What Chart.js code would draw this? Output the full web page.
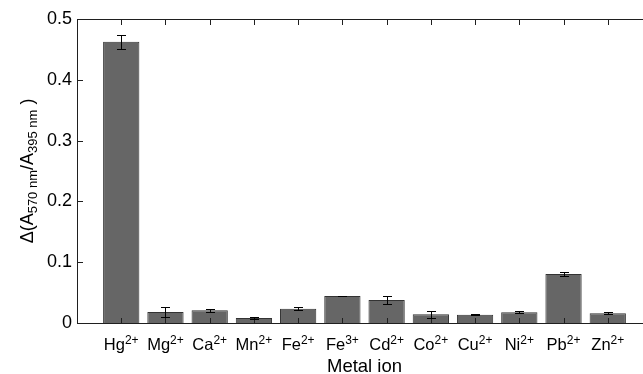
<!DOCTYPE html>
<html>
<head>
<meta charset="utf-8">
<script src="https://cdn.jsdelivr.net/npm/chart.js@4"></script>
<style>
  html, body { margin: 0; padding: 0; background: #fff; overflow: hidden; }
  #wrap { width: 643px; height: 374px; overflow: hidden; }
  canvas { display: block; }
</style>
</head>
<body>
<div id="wrap"><canvas id="chart" width="660" height="374"></canvas></div>
<script>
(function(){
  'use strict';

  // metal ions: base symbol + charge (drawn as superscript)
  let ions = ['Hg', 'Mg', 'Ca', 'Mn', 'Fe', 'Fe', 'Cd', 'Co', 'Cu', 'Ni', 'Pb', 'Zn'];
  let charges = ['2+', '2+', '2+', '2+', '2+', '3+', '2+', '2+', '2+', '2+', '2+', '2+'];
  let ratioChange = [0.4625, 0.018, 0.021, 0.0082, 0.0236, 0.0444, 0.0379, 0.0143, 0.0137, 0.0176, 0.0806, 0.016];
  let errors = [0.0115, 0.0085, 0.0025, 0.001, 0.0022, 0.0005, 0.0072, 0.0058, 0.001, 0.0015, 0.0028, 0.0018];
  let yTicks = [0, 0.1, 0.2, 0.3, 0.4, 0.5];

  let font = '"Liberation Sans", Arial, Helvetica, sans-serif';
  let axisColor = '#1f1f1f';

  let points = ratioChange.map(function(v, i){ return { x: i + 1, y: v }; });

  // box, inward tick marks, error bars and labels with super/subscripts
  let decorations = {
    id: 'decorations',
    afterDraw: function(chart){
      let ctx = chart.ctx;
      let area = chart.chartArea;
      let xs = chart.scales.x;
      let ys = chart.scales.y;
      let L = Math.round(area.left);
      let T = Math.round(area.top);
      let B = Math.round(area.bottom);
      let R = Math.round(area.right);

      ctx.save();
      ctx.fillStyle = axisColor;
      // axes box
      ctx.fillRect(L, T, R - L + 1, 1);
      ctx.fillRect(L, B, R - L + 1, 1);
      ctx.fillRect(L, T, 1, B - T + 1);
      ctx.fillRect(R, T, 1, B - T + 1);
      // x tick marks, top and bottom, pointing inward
      ions.forEach(function(n, i){
        let px = Math.round(xs.getPixelForValue(i + 1));
        ctx.fillRect(px, B - 5, 1, 5);
        ctx.fillRect(px, T + 1, 1, 5);
      });
      // y tick marks, left and right, pointing inward
      yTicks.forEach(function(t){
        let py = Math.round(ys.getPixelForValue(t));
        ctx.fillRect(L + 1, py, 5, 1);
        ctx.fillRect(R - 5, py, 5, 1);
      });

      // error bars
      ctx.fillStyle = '#000';
      ratioChange.forEach(function(v, i){
        let px = Math.round(xs.getPixelForValue(i + 1));
        let hi = Math.round(ys.getPixelForValue(v + errors[i]));
        let lo = Math.round(ys.getPixelForValue(v - errors[i]));
        ctx.fillRect(px, hi, 1, lo - hi + 1);
        ctx.fillRect(px - 4, hi, 9, 1);
        ctx.fillRect(px - 4, lo, 9, 1);
      });

      // x category labels with superscript charges
      ctx.fillStyle = '#000';
      ctx.textBaseline = 'alphabetic';
      ctx.textAlign = 'left';
      ions.forEach(function(n, i){
        let px = xs.getPixelForValue(i + 1);
        ctx.font = '16.5px ' + font;
        let wb = ctx.measureText(n).width;
        ctx.font = '12px ' + font;
        let ws = ctx.measureText(charges[i]).width;
        let x0 = px - (wb + ws) / 2;
        ctx.font = '16.5px ' + font;
        ctx.fillText(n, x0, 350);
        ctx.font = '12px ' + font;
        ctx.fillText(charges[i], x0 + wb, 344);
      });

      // x axis title
      ctx.font = '18.5px ' + font;
      ctx.textAlign = 'center';
      ctx.fillText('Metal ion', (area.left + area.right) / 2, 372);

      // y axis title, rotated, with subscripts
      let parts = [
        { t: '\u0394(A', sub: false },
        { t: '570 nm', sub: true },
        { t: '/A', sub: false },
        { t: '395 nm', sub: true },
        { t: ' )', sub: false }
      ];
      ctx.textAlign = 'left';
      let total = 0;
      parts.forEach(function(p){
        ctx.font = (p.sub ? '13px ' : '18px ') + font;
        p.w = ctx.measureText(p.t).width;
        total += p.w;
      });
      ctx.translate(33, (area.top + area.bottom) / 2);
      ctx.rotate(-Math.PI / 2);
      let cx = -total / 2;
      parts.forEach(function(p){
        ctx.font = (p.sub ? '13px ' : '18px ') + font;
        ctx.fillText(p.t, cx, p.sub ? 4 : 0);
        cx += p.w;
      });
      ctx.restore();
    }
  };

  let chart = new Chart(document.getElementById('chart'), {
    type: 'bar',
    data: {
      datasets: [{
        label: 'Metal ion response',
        data: points,
        backgroundColor: '#666666',
        borderColor: '#333333',
        borderWidth: 1,
        categoryPercentage: 1.0,
        barPercentage: 0.82
      }]
    },
    options: {
      responsive: false,
      animation: false,
      layout: { padding: { top: 0, right: 8, left: 0, bottom: 0 } },
      plugins: { legend: { display: false }, tooltip: { enabled: false } },
      scales: {
        x: {
          type: 'linear',
          min: 0,
          max: 13,
          offset: false,
          grid: { display: false, offset: false, drawTicks: false },
          border: { display: true, color: axisColor, width: 1 },
          ticks: { display: false },
          afterFit: function(scale){ scale.height = 51; }
        },
        xTop: {
          type: 'linear',
          position: 'top',
          min: 0,
          max: 13,
          grid: { display: false, drawTicks: false },
          border: { display: true, color: axisColor, width: 1 },
          ticks: { display: false },
          afterFit: function(scale){ scale.height = 19; }
        },
        y: {
          min: 0,
          max: 0.5,
          grid: { display: false, drawTicks: false },
          border: { display: true, color: axisColor, width: 1 },
          ticks: {
            stepSize: 0.1,
            padding: 5,
            color: '#000',
            font: { family: font, size: 18 }
          },
          afterFit: function(scale){ scale.width = 77; }
        }
      }
    },
    plugins: [decorations]
  });
})();
</script>
</body>
</html>
